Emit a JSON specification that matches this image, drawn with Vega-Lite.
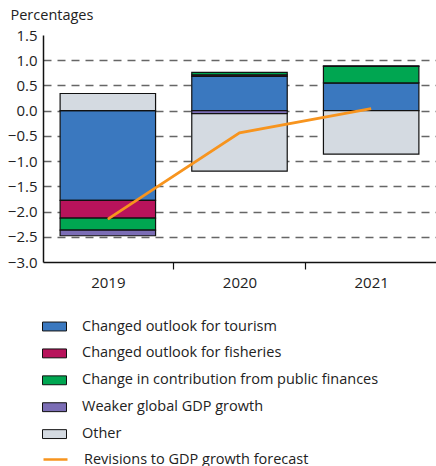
{
  "$schema": "https://vega.github.io/schema/vega-lite/v6.json",
  "width": 393,
  "height": 227,
  "autosize": {"type": "none"},
  "padding": {"left": 43, "top": 35, "right": 0, "bottom": 204},
  "config": {
    "view": {"stroke": null},
    "font": "Open Sans",
    "axis": {"labelFont": "Open Sans", "labelFontSize": 15, "labelColor": "#222", "domainColor": "#111", "tickColor": "#111"},
    "legend": {"labelFont": "Open Sans", "labelFontSize": 14.5, "labelColor": "#222", "padding": 0, "labelLimit": 0}
  },
  "datasets": {
    "bars": [
      {"year": "2019", "category": "Changed outlook for tourism", "value": -1.78, "ord": 1},
      {"year": "2019", "category": "Changed outlook for fisheries", "value": -0.35, "ord": 2},
      {"year": "2019", "category": "Change in contribution from public finances", "value": -0.24, "ord": 3},
      {"year": "2019", "category": "Weaker global GDP growth", "value": -0.11, "ord": 4},
      {"year": "2019", "category": "Other", "value": 0.34, "ord": 5},
      {"year": "2020", "category": "Changed outlook for tourism", "value": 0.68, "ord": 1},
      {"year": "2020", "category": "Changed outlook for fisheries", "value": 0.03, "ord": 2},
      {"year": "2020", "category": "Change in contribution from public finances", "value": 0.05, "ord": 3},
      {"year": "2020", "category": "Weaker global GDP growth", "value": -0.06, "ord": 4},
      {"year": "2020", "category": "Other", "value": -1.14, "ord": 5},
      {"year": "2021", "category": "Changed outlook for tourism", "value": 0.55, "ord": 1},
      {"year": "2021", "category": "Changed outlook for fisheries", "value": 0.0, "ord": 2},
      {"year": "2021", "category": "Change in contribution from public finances", "value": 0.33, "ord": 3},
      {"year": "2021", "category": "Weaker global GDP growth", "value": 0.01, "ord": 4},
      {"year": "2021", "category": "Other", "value": -0.86, "ord": 5}
    ],
    "line": [
      {"year": "2019", "series": "Revisions to GDP growth forecast", "value": -2.15},
      {"year": "2020", "series": "Revisions to GDP growth forecast", "value": -0.44},
      {"year": "2021", "series": "Revisions to GDP growth forecast", "value": 0.04}
    ]
  },
  "encoding": {
    "x": {
      "field": "year", "type": "nominal",
      "scale": {"paddingInner": 0.275, "paddingOuter": 0.13},
      "axis": {"title": null, "labelAngle": 0, "tickOffset": 65.5, "labelOffset": -65.5, "tickSize": 7, "labelPadding": 6, "domainWidth": 1.5, "tickWidth": 1.2}
    },
    "y": {
      "field": "value", "type": "quantitative",
      "scale": {"domain": [-3, 1.5], "nice": false},
      "axis": {
        "title": "Percentages", "titleAngle": 0, "titleAlign": "left", "titleBaseline": "alphabetic",
        "titleX": -33, "titleY": -16, "titleFontSize": 14.5, "titleFontWeight": "normal", "titleColor": "#222", "titleFont": "Open Sans",
        "values": [-3, -2.5, -2, -1.5, -1, -0.5, 0, 0.5, 1, 1.5], "labelOverlap": false,
        "format": ".1f", "tickSize": 0, "labelPadding": 6, "domainWidth": 1.5,
        "grid": true, "gridDash": [8, 6], "gridColor": "#666", "gridWidth": 1.3,
        "gridOpacity": {"condition": {"test": "datum.value == 1.5 || datum.value == -3", "value": 0}, "value": 1}
      }
    }
  },
  "layer": [
    {
      "data": {"name": "bars"},
      "mark": {"type": "bar", "stroke": "#111", "strokeWidth": 1.2},
      "encoding": {
        "y": {"field": "value", "type": "quantitative", "stack": "zero"},
        "color": {
          "field": "category", "type": "nominal",
          "scale": {
            "domain": ["Changed outlook for tourism", "Changed outlook for fisheries", "Change in contribution from public finances", "Weaker global GDP growth", "Other"],
            "range": ["#3a78bf", "#b8135b", "#00a651", "#7b6db5", "#d4dae1"]
          },
          "legend": {
            "title": null, "orient": "none", "legendX": -1, "legendY": 279,
            "symbolType": "M-1,-0.37H1V0.37H-1Z", "symbolSize": 576, "symbolStrokeColor": "#111", "symbolStrokeWidth": 1,
            "labelOffset": 15, "rowPadding": 7.9, "symbolOpacity": 1
          }
        },
        "order": {"field": "ord", "type": "quantitative"}
      }
    },
    {
      "data": {"values": [{"z": 0}]},
      "mark": {"type": "rule", "color": "#333", "strokeWidth": 1.2},
      "encoding": {"y": {"datum": 0}, "x": {}}
    },
    {
      "data": {"name": "line"},
      "mark": {"type": "line", "strokeWidth": 2.8},
      "encoding": {
        "stroke": {
          "field": "series", "type": "nominal",
          "scale": {"range": ["#f7941e"]},
          "legend": {
            "title": null, "orient": "none", "legendX": -1, "legendY": 411,
            "symbolType": "stroke", "symbolSize": 576, "symbolStrokeWidth": 2.5, "labelOffset": 15
          }
        }
      }
    }
  ]
}
